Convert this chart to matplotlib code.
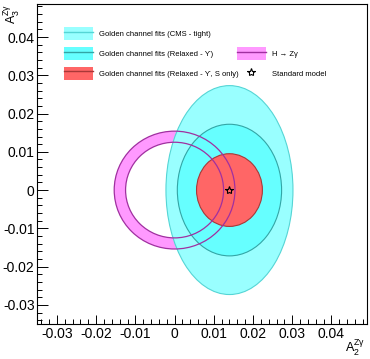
import matplotlib
matplotlib.use("Agg")
from matplotlib import pyplot as plt
from matplotlib.patches import Ellipse, Circle, Annulus, Patch
from matplotlib.lines import Line2D
from matplotlib.legend_handler import HandlerTuple

plt.rcParams['font.family'] = ['Liberation Sans', 'DejaVu Sans']
plt.rcParams['mathtext.fontset'] = 'custom'
plt.rcParams['mathtext.rm'] = 'Liberation Sans'
plt.rcParams['mathtext.it'] = 'Liberation Sans'

# standard model point
sm_point = (0.014, 0.0)

# golden channel fit contours: centre, full width, full height
fit_labels = ["Golden channel fits (CMS - tight)",
              "Golden channel fits (Relaxed - \u03d2)",
              "Golden channel fits (Relaxed - \u03d2, S only)"]
fit_centres = [(0.014, 0.0), (0.014, 0.0), (0.014, 0.0)]
fit_widths = [0.0324, 0.0266, 0.0168]
fit_heights = [0.0546, 0.0344, 0.0190]
fit_faces = ["#99ffff", "#66ffff", "#ff6666"]
fit_edges = ["#55d5d5", "#33a5a5", "#a83838"]

# H -> Z gamma ring
hzg_label = "H \u2192 Z\u03b3"
hzg_centre = (0.0, 0.0)
hzg_r_in = 0.0125
hzg_r_out = 0.0154

x_ticks = [-0.03, -0.02, -0.01, 0, 0.01, 0.02, 0.03, 0.04]
x_ticklabels = ["-0.03", "-0.02", "-0.01", "0", "0.01", "0.02", "0.03", "0.04"]
y_ticks = [-0.03, -0.02, -0.01, 0, 0.01, 0.02, 0.03, 0.04]
y_ticklabels = ["-0.03", "-0.02", "-0.01", "0", "0.01", "0.02", "0.03", "0.04"]

fig = plt.figure(figsize=(3.70, 3.59), dpi=100)
ax = fig.add_axes([0.101, 0.0975, 0.890, 0.890])
ax.set_xlim(-0.035, 0.049)
ax.set_ylim(-0.035, 0.0485)

# ring fill underneath everything
ring = Annulus(hzg_centre, hzg_r_out, hzg_r_out - hzg_r_in,
               facecolor="#ff99ff", edgecolor="none", zorder=1)
ax.add_patch(ring)

for i in range(len(fit_labels)):
    e = Ellipse(fit_centres[i], fit_widths[i], fit_heights[i],
                facecolor=fit_faces[i], edgecolor=fit_edges[i], lw=0.8, zorder=2 + i)
    ax.add_patch(e)

# ring outlines on top
for r in (hzg_r_in, hzg_r_out):
    ax.add_patch(Circle(hzg_centre, r, fill=False, edgecolor="#a030a0", lw=0.9, zorder=6))

ax.plot([sm_point[0]], [sm_point[1]], marker="*", ms=6, mfc="none", mec="black",
        mew=0.8, ls="none", zorder=7)

# axes styling, ROOT-like
ax.set_xticks(x_ticks)
ax.set_xticklabels(x_ticklabels)
ax.set_yticks(y_ticks)
ax.set_yticklabels(y_ticklabels)
ax.set_xticks([v / 1000 for v in range(-34, 49, 2)], minor=True)
ax.set_yticks([v / 1000 for v in range(-34, 49, 2)], minor=True)
ax.tick_params(axis="both", which="both", direction="in", top=False, right=False,
               labelsize=10, width=0.7, colors="black")
ax.tick_params(axis="x", which="major", length=6.8, pad=2)
ax.tick_params(axis="x", which="minor", length=3.4)
ax.tick_params(axis="y", which="major", length=7.6, pad=2)
ax.tick_params(axis="y", which="minor", length=3.8)
for s in ax.spines.values():
    s.set_linewidth(0.8)

fig.text(0.006, 0.990, r"$\mathregular{A_3^{Z\gamma}}$", rotation=90,
         ha="left", va="top", fontsize=9)
fig.text(0.988, 0.003, r"$\mathregular{A_2^{Z\gamma}}$", ha="right", va="bottom",
         fontsize=9)

# legends
handles = []
for i in range(len(fit_labels)):
    handles.append((Patch(facecolor=fit_faces[i], edgecolor="none"),
                    Line2D([], [], color=fit_edges[i], lw=1.0)))
leg_kw = dict(frameon=False, fontsize=5.5, handlelength=3.8, handleheight=2.25,
              handletextpad=0.8, labelspacing=0.9, borderpad=0, borderaxespad=0,
              handler_map={tuple: HandlerTuple(ndivide=1, pad=0)})
leg1 = ax.legend(handles, fit_labels, loc="upper left",
                 bbox_to_anchor=(0.081, 0.929), **leg_kw)
ax.add_artist(leg1)

h2 = [(Patch(facecolor="#ff99ff", edgecolor="none"), Line2D([], [], color="#a030a0", lw=1.0)),
      Line2D([], [], marker="*", ms=6, mfc="none", mec="black", mew=0.8, ls="none")]
leg2 = ax.legend(h2, [hzg_label, "Standard model"], loc="upper left",
                 bbox_to_anchor=(0.606, 0.866), **leg_kw)

fig.savefig("out.png", dpi=100)
